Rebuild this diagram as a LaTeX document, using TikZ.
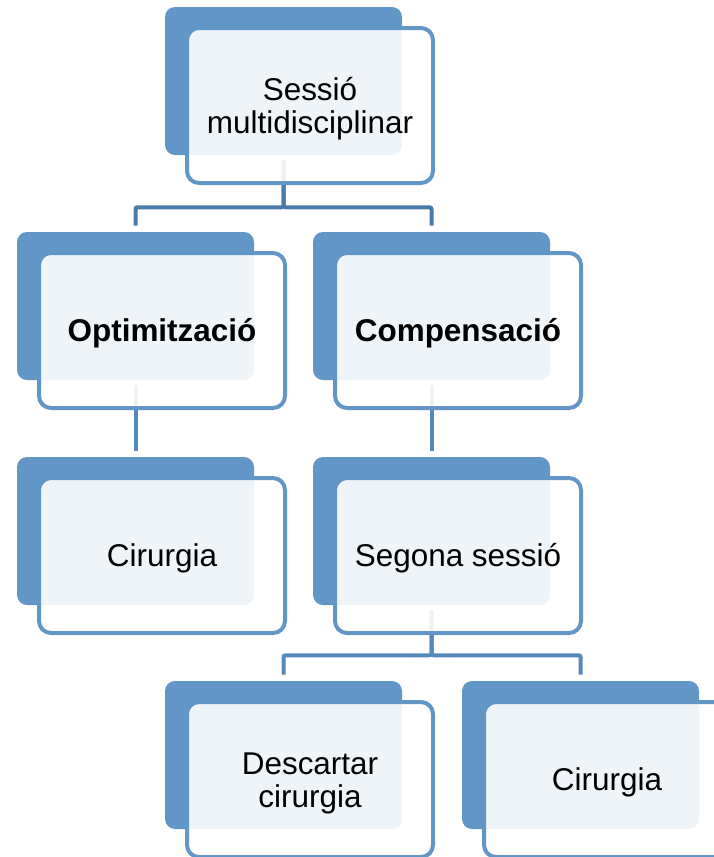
\documentclass[tikz,border=0pt]{standalone}
\usepackage{fontspec}
\setmainfont{Liberation Sans}
\definecolor{boxblue}{RGB}{98,150,199}
\definecolor{linkblue}{RGB}{86,137,187}
\definecolor{linkdark}{RGB}{74,122,168}
\newcommand{\boxtext}[1]{\raisebox{-3.5pt}[\height][\depth]{\begin{tabular}{@{}c@{}}#1\end{tabular}}}
\tikzset{
    backbox/.style={rectangle,rounded corners=7.5pt,fill=boxblue,inner sep=0pt,
        minimum width=177.75pt,minimum height=111pt},
    frontbox/.style={rectangle,rounded corners=9pt,draw=boxblue,line width=3pt,
        fill=white,fill opacity=0.9,text opacity=1,inner sep=0pt,
        minimum width=184.5pt,minimum height=116.25pt,
        font=\fontsize{23.6pt}{25pt}\selectfont},
    link/.style={draw=linkblue,line width=3pt,rounded corners=1.5pt}
}
\begin{document}
\begin{tikzpicture}[x=0.75pt,y=-0.75pt]
    \useasboundingbox (0,0) rectangle (714,857);
    \clip (0,0) rectangle (714,857);

    % back plates
    \node[backbox] (sessioB) at (283.5,81) {};
    \node[backbox] (optimB) at (135.5,306) {};
    \node[backbox] (compB) at (431.5,306) {};
    \node[backbox] (cirurgiaAB) at (135.5,531) {};
    \node[backbox] (segonaB) at (431.5,531) {};
    \node[backbox] (descartarB) at (283.5,755) {};
    \node[backbox] (cirurgiaBB) at (580.5,755) {};

    % connectors (under the front boxes)
    \draw[link,draw=linkdark] ([yshift=-3.75pt]sessioB.south) -- ++(0,47) -| ([yshift=4.5pt]optimB.north);
    \draw[link,draw=linkdark] ([yshift=-3.75pt]sessioB.south) -- ++(0,47) -| ([yshift=4.5pt]compB.north);
    \draw[link] ([yshift=-3.75pt]optimB.south) -- ([yshift=4.5pt]cirurgiaAB.north);
    \draw[link] ([yshift=-3.75pt]compB.south) -- ([yshift=4.5pt]segonaB.north);
    \draw[link] ([yshift=-3.75pt]segonaB.south) -- ++(0,45) -| ([yshift=4.5pt]descartarB.north);
    \draw[link] ([yshift=-3.75pt]segonaB.south) -- ++(0,45) -| ([yshift=4.5pt]cirurgiaBB.north);

    % front boxes with the texts
    \node[frontbox] (sessio) at ([shift={(26.5,24.5)}]sessioB.center) {\boxtext{Sessió\\multidisciplinar}};
    \node[frontbox] (optim) at ([shift={(26.5,24.5)}]optimB.center) {\boxtext{\textbf{Optimització}}};
    \node[frontbox] (comp) at ([shift={(26.5,24.5)}]compB.center) {\boxtext{\textbf{Compensació}}};
    \node[frontbox] (cirurgiaA) at ([shift={(26.5,24.5)}]cirurgiaAB.center) {\boxtext{Cirurgia}};
    \node[frontbox] (segona) at ([shift={(26.5,24.5)}]segonaB.center) {\boxtext{Segona sessió}};
    \node[frontbox] (descartar) at ([shift={(26.5,24.5)}]descartarB.center) {\boxtext{Descartar\\cirurgia}};
    \node[frontbox] (cirurgiaB) at ([shift={(26.5,24.5)}]cirurgiaBB.center) {\boxtext{Cirurgia}};
\end{tikzpicture}
\end{document}
